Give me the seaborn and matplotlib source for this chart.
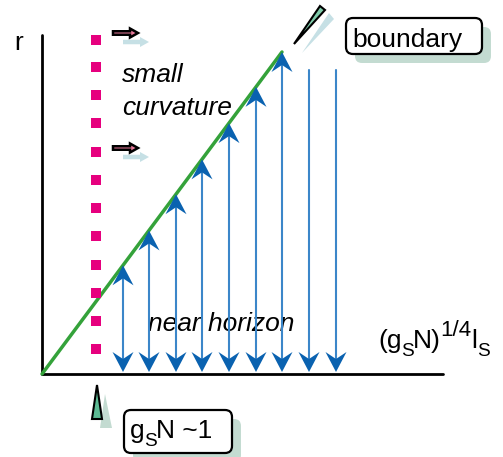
import matplotlib
matplotlib.use("Agg")
import matplotlib.pyplot as plt
from matplotlib.patches import FancyBboxPatch, Polygon
import seaborn as sns
import pandas as pd

sns.set_style("white")
plt.rcParams['font.family'] = ['Liberation Sans', 'DejaVu Sans']
plt.rcParams['text.color'] = 'black'

# ---- diagram values (canvas units, y grows downward) ----
origin = (42, 374)
axis_top = 35
axis_right = 443
boundary_end = (282, 52)
arrow_x = [123, 149, 176, 202, 229, 256, 282, 309, 336]
free_top = 62
arrow_bottom = 372
dot_x = 96
dot_y = [40, 67, 95, 123, 152, 180, 208, 236, 265, 293, 321, 349]
flow_y = [33, 148]
flow_x = (113, 138)

# composite labels: (text, size scale, baseline shift)
xlabel_parts = [('(g', 1.0, 0), ('S', 0.72, 8), ('N)', 1.0, 0), ('1/4', 0.85, -12),
                ('l', 1.0, 0), ('S', 0.72, 8)]
coupling_parts = [('g', 1.0, 0), ('S', 0.72, 8), ('N ~1', 1.0, 0)]

BLUE_LINE = '#3b86c9'
BLUE_HEAD = '#0a62b0'
GREEN = '#34a23a'
MAGENTA = '#e6007e'
PINK = '#e8799a'
SHADOW_BLUE = '#c6e0e5'
SHADOW_GREEN = '#c3dbd1'
WEDGE_GREEN = '#7fcbaa'

fig = plt.figure(figsize=(5.03, 4.57), dpi=100)
ax = fig.add_axes([0, 0, 1, 1])

# boundary line r ~ x
slope = (origin[1] - boundary_end[1]) / (boundary_end[0] - origin[0])
line_df = pd.DataFrame({'x': [origin[0], boundary_end[0]], 'y': [origin[1], boundary_end[1]]})
sns.lineplot(data=line_df, x='x', y='y', color=GREEN, lw=2.5, ax=ax, zorder=3, sort=False)

# magenta dotted line
dot_df = pd.DataFrame({'x': [dot_x] * len(dot_y), 'y': dot_y})
sns.scatterplot(data=dot_df, x='x', y='y', marker='s', s=55, color=MAGENTA,
                edgecolor='none', ax=ax, zorder=3, legend=False)
ax.set_xlim(0, 503)
ax.set_ylim(457, 0)
ax.set_xlabel('')
ax.set_ylabel('')
ax.axis('off')

# axes
ax.plot([origin[0], origin[0]], [axis_top, origin[1]], color='black', lw=2, zorder=2)
ax.plot([origin[0], axis_right], [origin[1], origin[1]], color='black', lw=2, zorder=2)


def stealth(x, tip, d, w=10.5, L=20, notch=7):
    # d = +1 pointing down, -1 pointing up
    pts = [(x, tip), (x - w, tip - d * L), (x, tip - d * (L - notch)), (x + w, tip - d * L)]
    ax.add_patch(Polygon(pts, closed=True, fc=BLUE_HEAD, ec='none', zorder=5))


for x in arrow_x:
    if x <= boundary_end[0]:
        top = origin[1] - slope * (x - origin[0])
        stealth(x, top, -1)
    else:
        top = free_top
    ax.plot([x, x], [top + 8, arrow_bottom - 10], color=BLUE_LINE, lw=1.5, zorder=4)
    stealth(x, arrow_bottom, 1)

# flow arrows (pink with pale shadow)
for fy in flow_y:
    ax.arrow(flow_x[0] + 10, fy + 9, flow_x[1] - flow_x[0] - 8, 0, width=4.5, head_width=10,
             head_length=9, fc=SHADOW_BLUE, ec='none', zorder=2)
    ax.arrow(flow_x[0], fy, flow_x[1] - flow_x[0] - 8, 0, width=3.5, head_width=9,
             head_length=8, fc=PINK, ec='black', lw=1.8, zorder=3)

# wedge pointers
ax.add_patch(Polygon([(302, 53), (329, 13), (334, 19)], closed=True, fc=SHADOW_BLUE, ec='none', zorder=2))
ax.add_patch(Polygon([(294, 44), (320, 6), (325, 10)], closed=True, fc=WEDGE_GREEN, ec='black', lw=1.5, zorder=3))
ax.add_patch(Polygon([(105, 394), (100, 428), (112, 428)], closed=True, fc=SHADOW_GREEN, ec='none', zorder=2))
ax.add_patch(Polygon([(97, 385), (92, 419), (102, 419)], closed=True, fc='#5dbb94', ec='black', lw=1.5, zorder=3))

# labels
FS = 19
ax.text(14, 50, 'r', fontsize=FS, va='baseline', ha='left')
ax.text(122, 82, 'small', fontsize=FS, style='italic', va='baseline')
ax.text(122, 115, 'curvature', fontsize=FS, style='italic', va='baseline')
ax.text(148, 331, 'near horizon', fontsize=FS, style='italic', va='baseline')

renderer = fig.canvas.get_renderer()


def compound(x, y, parts, z=4):
    for s, scale, dy in parts:
        t = ax.text(x, y + dy, s, fontsize=FS * scale, va='baseline', ha='left', zorder=z)
        bb = t.get_window_extent(renderer)
        x += bb.width - 0.5


compound(378, 348, xlabel_parts)


def box(x0, y0, x1, y1):
    ax.add_patch(FancyBboxPatch((x0 + 9, y0 + 9), x1 - x0, y1 - y0,
                                boxstyle='round,pad=0,rounding_size=7', fc=SHADOW_GREEN, ec='none', zorder=2))
    ax.add_patch(FancyBboxPatch((x0, y0), x1 - x0, y1 - y0,
                                boxstyle='round,pad=0,rounding_size=7', fc='white', ec='black', lw=1.6, zorder=3))


box(346, 18, 482, 54)
ax.text(352, 47, 'boundary', fontsize=FS, va='baseline', zorder=4)
box(124, 410, 232, 453)
compound(130, 438, coupling_parts)

fig.savefig('out.png', dpi=100)
